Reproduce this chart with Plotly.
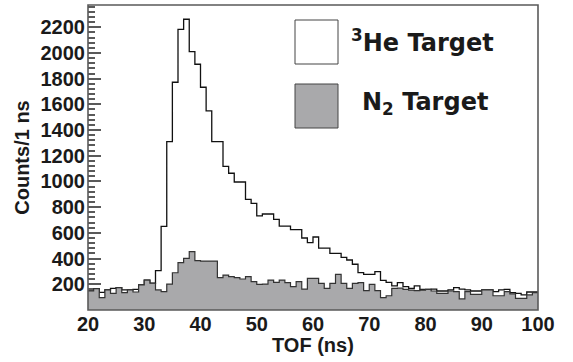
import plotly.graph_objects as go

# bin lower edges (ns), 1 ns bins from 20 to 100
bin_edges = list(range(20, 101))

he3_counts = [148, 166, 137, 156, 169, 174, 156, 156, 161, 195,
              233, 208, 306, 650, 1310, 1772, 2184, 2262, 2010, 1912,
              1733, 1549, 1310, 1310, 1118, 1064, 996, 996, 861, 830,
              733, 747, 747, 705, 652, 652, 625, 625, 560, 524,
              568, 482, 482, 441, 441, 410, 389, 356, 291, 277,
              277, 298, 230, 215, 187, 213, 182, 168, 187, 161,
              161, 163, 148, 148, 156, 174, 163, 156, 148, 148,
              156, 156, 143, 156, 161, 135, 130, 117, 140, 140]

n2_counts = [148, 166, 96, 156, 130, 174, 135, 156, 140, 195,
             233, 208, 156, 143, 202, 290, 368, 402, 454, 384,
             381, 381, 381, 252, 272, 259, 252, 241, 259, 220,
             200, 202, 233, 215, 233, 213, 182, 220, 163, 246,
             246, 207, 168, 207, 277, 207, 168, 207, 213, 150,
             200, 150, 96, 111, 168, 170, 160, 155, 150, 155,
             160, 148, 130, 130, 148, 143, 86, 143, 122, 122,
             156, 156, 111, 111, 143, 125, 91, 91, 117, 135]

y_ticks = [200, 400, 600, 800, 1000, 1200, 1400, 1600, 1800, 2000, 2200]
x_ticks = [20, 30, 40, 50, 60, 70, 80, 90, 100]
legend_labels = ["<sup>3</sup>He Target", "N<sub>2</sub> Target"]
x_title = "TOF (ns)"
y_title = "Counts/1 ns"

GRAY = "#a9a9ab"
FRAME = "#5a5a5a"

fig = go.Figure()
fig.add_trace(go.Scatter(
    x=bin_edges, y=he3_counts + [he3_counts[-1]],
    mode="lines", line=dict(shape="hv", color="#111111", width=1.3),
    showlegend=False, hoverinfo="skip"))
fig.add_trace(go.Scatter(
    x=bin_edges, y=n2_counts + [n2_counts[-1]],
    mode="lines", line=dict(shape="hv", color="#333333", width=1.2),
    fill="tozeroy", fillcolor=GRAY,
    showlegend=False, hoverinfo="skip"))

label_font = dict(family="Liberation Sans", size=20, color="#1a1a1a", weight="bold")

fig.update_xaxes(
    range=[20, 100], tickmode="array", tickvals=x_ticks,
    ticks="", showgrid=False, zeroline=False, showline=False,
    tickfont=label_font, ticklabelstandoff=0)
fig.update_yaxes(
    range=[0, 2373], tickmode="array", tickvals=y_ticks,
    ticks="inside", ticklen=13, tickwidth=1.5, tickcolor=FRAME,
    minor=dict(ticks="inside", ticklen=7, dtick=40, tick0=0,
               tickwidth=1.5, tickcolor=FRAME, showgrid=False),
    showgrid=False, zeroline=False, showline=False,
    layer="below traces",
    tickfont=label_font, ticklabelstandoff=2,
    title=dict(text=y_title, font=label_font, standoff=5))

# frame
fig.add_shape(type="rect", xref="paper", yref="paper", x0=0, x1=1, y0=0, y1=1,
              line=dict(color=FRAME, width=1.6), layer="above")

def px_x(p):
    return (p - 88) / 450.0

def px_y(p):
    return (310 - p) / 305.0

# x-axis title
fig.add_annotation(xref="paper", yref="paper", x=px_x(312.5), y=px_y(345),
                   xanchor="center", yanchor="middle", text=x_title,
                   showarrow=False, font=label_font)

# legend boxes
fig.add_shape(type="rect", xref="paper", yref="paper",
              x0=px_x(295), x1=px_x(338), y0=px_y(64), y1=px_y(20),
              line=dict(color="#444444", width=1), fillcolor="white", layer="above")
fig.add_shape(type="rect", xref="paper", yref="paper",
              x0=px_x(295), x1=px_x(338), y0=px_y(128), y1=px_y(84),
              line=dict(color="#444444", width=1), fillcolor=GRAY, layer="above")

leg_font = dict(family="DejaVu Sans", size=24, color="#1a1a1a", weight="bold")
fig.add_annotation(xref="paper", yref="paper", x=px_x(349), y=px_y(41),
                   xanchor="left", yanchor="middle", text=legend_labels[0],
                   showarrow=False, font=leg_font)
fig.add_annotation(xref="paper", yref="paper", x=px_x(360), y=px_y(103),
                   xanchor="left", yanchor="middle", text=legend_labels[1],
                   showarrow=False, font=leg_font)

fig.update_layout(
    width=573, height=362,
    margin=dict(l=88, r=35, t=5, b=52),
    paper_bgcolor="white", plot_bgcolor="white",
)

fig.write_html("out.html")
